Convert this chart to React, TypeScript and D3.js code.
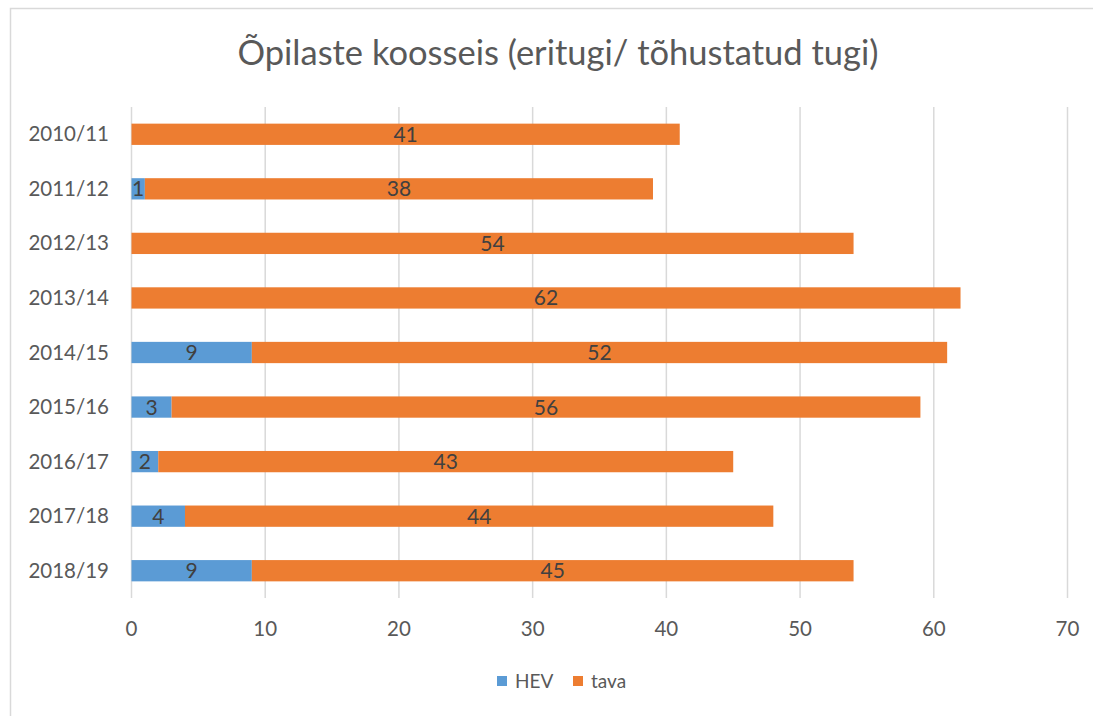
import React, { useEffect, useRef } from 'react';
import * as d3 from 'd3';

const years = ['2010/11', '2011/12', '2012/13', '2013/14', '2014/15', '2015/16', '2016/17', '2017/18', '2018/19'];
const hev = [0, 1, 0, 0, 9, 3, 2, 4, 9];
const tava = [41, 38, 54, 62, 52, 56, 43, 44, 45];
const seriesNames = ['HEV', 'tava'];
const seriesColors = ['#5b9bd5', '#ed7d31'];
const xTicks = [0, 10, 20, 30, 40, 50, 60, 70];

const FONT = "Lato, 'Open Sans', sans-serif";

const App: React.FC = () => {
  const ref = useRef<SVGSVGElement>(null);

  useEffect(() => {
    if (!ref.current) return;
    const svg = d3.select(ref.current);
    svg.selectAll('*').remove();

    const W = 1093, H = 716;
    const plot = { left: 131.5, right: 1067.5, top: 107, bottom: 598 };

    // chart frame
    svg.append('rect')
      .attr('x', 10.5).attr('y', 8.5)
      .attr('width', W + 20).attr('height', H + 20)
      .attr('fill', 'white').attr('stroke', '#d9d9d9').attr('stroke-width', 1.5);

    svg.append('text')
      .attr('x', 558).attr('y', 65)
      .attr('text-anchor', 'middle')
      .attr('font-family', FONT)
      .attr('font-size', '34.5px')
      .attr('fill', '#595959')
      .text('Õpilaste koosseis (eritugi/ tõhustatud tugi)');

    const x = d3.scaleLinear().domain([0, 70]).range([plot.left, plot.right]);
    const y = d3.scaleBand().domain(years).range([plot.top, plot.bottom]).paddingInner(0.61).paddingOuter(0.305);

    // gridlines
    svg.append('g').selectAll('line').data(xTicks).enter().append('line')
      .attr('x1', d => x(d)).attr('x2', d => x(d))
      .attr('y1', plot.top).attr('y2', plot.bottom)
      .attr('stroke', '#d9d9d9').attr('stroke-width', 1.5);

    // tick labels
    svg.append('g').selectAll('text').data(xTicks).enter().append('text')
      .attr('x', d => x(d)).attr('y', 636)
      .attr('text-anchor', 'middle')
      .attr('font-family', FONT).attr('font-size', '20.5px').attr('fill', '#595959')
      .text(d => d);

    svg.append('g').selectAll('text').data(years).enter().append('text')
      .attr('x', 109).attr('y', d => (y(d) as number) + y.bandwidth() / 2 + 7)
      .attr('text-anchor', 'end')
      .attr('font-family', FONT).attr('font-size', '20.5px').attr('fill', '#595959')
      .text(d => d);

    const rows = years.map((yr, i) => ({ yr, vals: [hev[i], tava[i]] }));
    rows.forEach(r => {
      let acc = 0;
      r.vals.forEach((v, k) => {
        const x0 = x(acc), x1 = x(acc + v);
        acc += v;
        if (v === 0) return;
        svg.append('rect')
          .attr('x', x0).attr('y', y(r.yr) as number)
          .attr('width', x1 - x0).attr('height', y.bandwidth())
          .attr('fill', seriesColors[k]);
        svg.append('text')
          .attr('x', (x0 + x1) / 2).attr('y', (y(r.yr) as number) + y.bandwidth() / 2 + 7.5)
          .attr('text-anchor', 'middle')
          .attr('font-family', FONT).attr('font-size', '21px').attr('fill', '#404040')
          .text(v);
      });
    });

    // legend
    const legendX = [497, 573];
    seriesNames.forEach((n, k) => {
      svg.append('rect').attr('x', legendX[k]).attr('y', 676).attr('width', 10).attr('height', 10).attr('fill', seriesColors[k]);
      svg.append('text').attr('x', legendX[k] + 18).attr('y', 688)
        .attr('font-family', FONT).attr('font-size', '19px').attr('fill', '#595959').text(n);
    });
  }, []);

  return <svg ref={ref} width={1093} height={716} style={{ position: 'absolute', left: 0, top: 0 }} />;
};

export default App;
